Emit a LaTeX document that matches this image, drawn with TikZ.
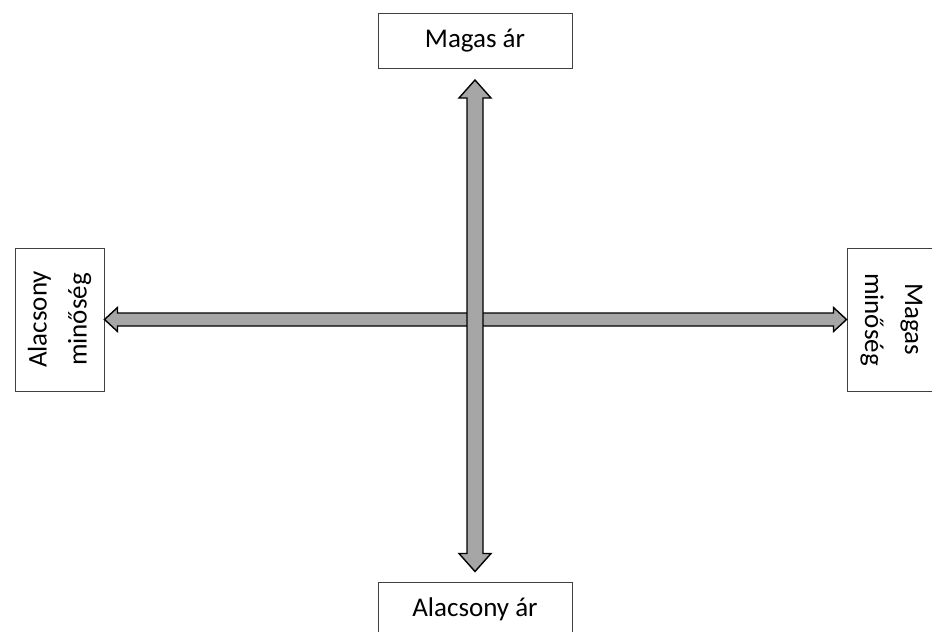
\documentclass[tikz,border=0pt]{standalone}
\usepackage{fontspec}
\setmainfont{Carlito}
\usetikzlibrary{calc}
\definecolor{boxline}{HTML}{404040}
\definecolor{shaftgray}{HTML}{A6A6A6}
\tikzset{
  labelbox/.style={draw=boxline, line width=1pt, fill=white, inner sep=0pt,
    align=center, font=\fontsize{27}{40}\selectfont},
  fatarrow/.style={draw=black, line width=1.4pt, fill=shaftgray, line join=miter}
}
\begin{document}
\begin{tikzpicture}[x=1pt, y=-1pt]
  \useasboundingbox (0,0) rectangle (932,632);

  % the four pole boxes
  \node[labelbox, minimum width=194pt, minimum height=55pt] (hiprice) at (475,41) {Magas ár};
  \node[labelbox, minimum width=194pt, minimum height=55pt] (loprice) at (475,609.5) {Alacsony ár};
  \node[labelbox, rotate=90, minimum width=143pt, minimum height=89pt] (loqual) at (59.5,319.5) {Alacsony\\minőség};
  \node[labelbox, rotate=-90, minimum width=143pt, minimum height=89pt] (hiqual) at (891.5,319.5) {Magas\\minőség};

  % end points of the two axes
  \coordinate (hl) at (loqual.south);
  \coordinate (hr) at (hiqual.south);
  \coordinate (vt) at ($(hiprice.south)+(0,11)$);
  \coordinate (vb) at ($(loprice.north)+(0,-10)$);

  % horizontal axis: quality
  \draw[fatarrow] (hl) -- ($(hl)+(13,-12)$) -- ($(hl)+(13,-6.5)$)
    -- ($(hr)+(-13,-6.5)$) -- ($(hr)+(-13,-12)$) -- (hr)
    -- ($(hr)+(-13,12)$) -- ($(hr)+(-13,6.5)$)
    -- ($(hl)+(13,6.5)$) -- ($(hl)+(13,12)$) -- cycle;

  % vertical axis: price
  \draw[fatarrow] (vt) -- ($(vt)+(16,18)$) -- ($(vt)+(8,18)$)
    -- ($(vb)+(8,-18)$) -- ($(vb)+(16,-18)$) -- (vb)
    -- ($(vb)+(-16,-18)$) -- ($(vb)+(-8,-18)$)
    -- ($(vt)+(-8,18)$) -- ($(vt)+(-16,18)$) -- cycle;
\end{tikzpicture}
\end{document}
